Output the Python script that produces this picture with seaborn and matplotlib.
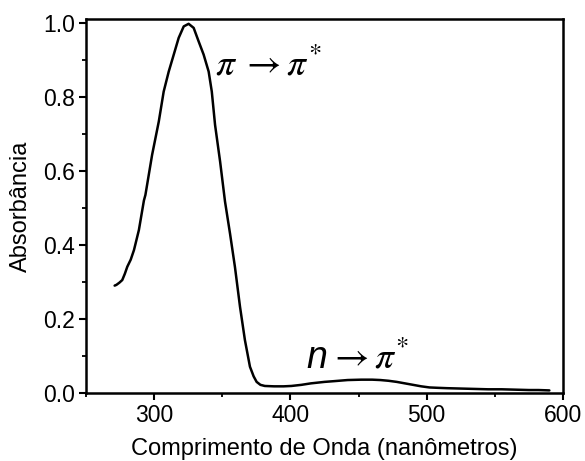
import matplotlib
matplotlib.use("Agg")
import matplotlib.pyplot as plt
import seaborn as sns
import pandas as pd
from matplotlib.ticker import MultipleLocator

wavelength = [271, 272.3, 274.5, 276.6, 278.5, 280.3, 282.8, 285.2, 288.8, 292.5, 293.6, 298.5, 303.4, 307,
              310.7, 314.4, 318, 321.7, 325.3, 329, 332.6, 336.3, 340, 342.3, 344.7, 348.4, 352,
              355.7, 359.3, 363, 366.6, 370.3, 373, 375.2, 378, 381.2, 388, 395, 400.7, 408, 415,
              425, 432, 442, 452, 460, 466, 472, 478, 484, 490, 496, 502, 508, 515, 525, 535,
              545, 555, 565, 575, 582, 590]
absorbance = [0.29, 0.292, 0.298, 0.305, 0.322, 0.341, 0.36, 0.386, 0.44, 0.52, 0.535, 0.643, 0.733, 0.814,
              0.868, 0.914, 0.959, 0.99, 0.997, 0.986, 0.95, 0.914, 0.868, 0.814, 0.724, 0.625, 0.517,
              0.43, 0.34, 0.233, 0.143, 0.071, 0.045, 0.03, 0.022, 0.019, 0.018, 0.018, 0.019, 0.022, 0.026,
              0.030, 0.032, 0.035, 0.036, 0.036, 0.035, 0.033, 0.030, 0.026, 0.022, 0.018, 0.015, 0.014,
              0.013, 0.012, 0.011, 0.010, 0.010, 0.009, 0.008, 0.008, 0.007]

df = pd.DataFrame({"wl": wavelength, "abs": absorbance})

sns.set_theme(style="ticks")
plt.rcParams['font.family'] = ['Liberation Sans', 'DejaVu Sans']
plt.rcParams['mathtext.fontset'] = 'stix'
plt.rcParams['text.color'] = 'black'
plt.rcParams['axes.labelcolor'] = 'black'
plt.rcParams['xtick.color'] = 'black'
plt.rcParams['ytick.color'] = 'black'

fig = plt.figure(figsize=(5.85, 4.61), dpi=100)
ax = fig.add_axes([86/585, 1-393/461, (563-86)/585, (393-19)/461])

sns.lineplot(data=df, x="wl", y="abs", ax=ax, color="black", linewidth=1.8)

ax.set_xlim(250, 600)
ax.set_ylim(0, 1.01)
ax.set_xticks([300, 400, 500, 600])
ax.xaxis.set_minor_locator(MultipleLocator(50))
ax.set_yticks([0.0, 0.2, 0.4, 0.6, 0.8, 1.0])
ax.set_yticklabels(["0.0", "0.2", "0.4", "0.6", "0.8", "1.0"])
ax.yaxis.set_minor_locator(MultipleLocator(0.1))

for s in ax.spines.values():
    s.set_linewidth(1.8)
    s.set_color("black")
ax.tick_params(which="major", direction="out", length=5, width=1.5, labelsize=16.5,
               colors="black", labelcolor="black", pad=3)
ax.tick_params(which="minor", direction="out", length=3, width=1.3, colors="black")

ax.set_xlabel("Comprimento de Onda (nanômetros)", fontsize=17, labelpad=8, color="black")
ax.set_ylabel("Absorbância", fontsize=17, labelpad=8, color="black")

ax.text(345, 0.885, r"$\pi\;\rightarrow\pi^{*}$", fontsize=27, va="center", ha="left", color="black")
ax.text(412, 0.095, "n", fontsize=27, va="center", ha="left", style="italic", color="black")
ax.text(428, 0.095, r"$\rightarrow\pi^{*}$", fontsize=27, va="center", ha="left", color="black")

fig.savefig("out.png", dpi=100)
